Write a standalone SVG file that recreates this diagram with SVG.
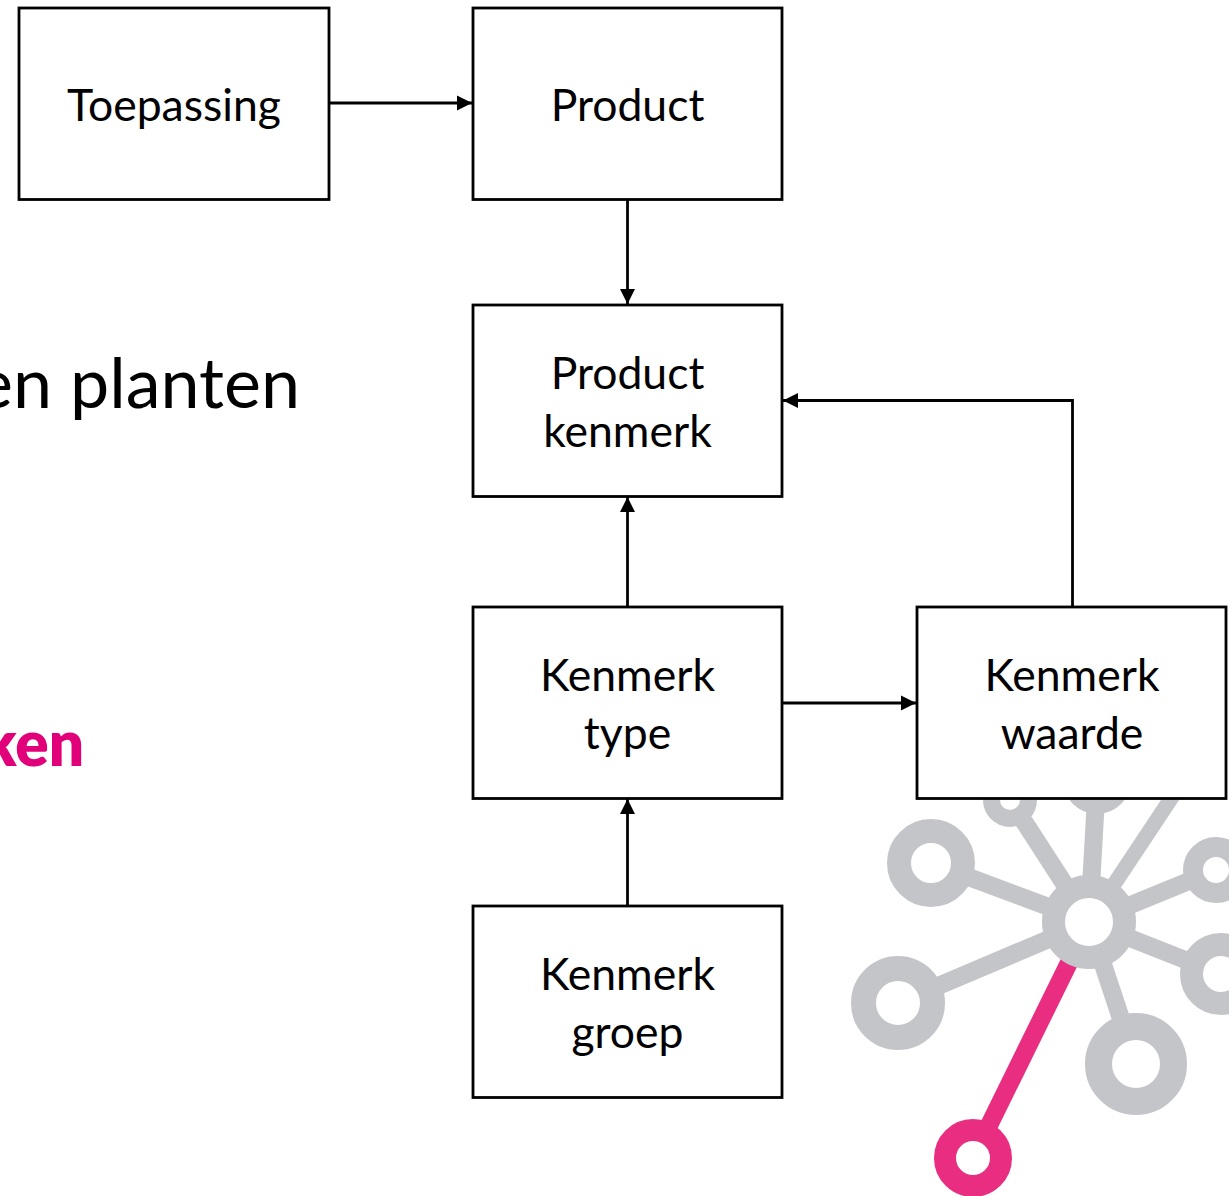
<svg xmlns="http://www.w3.org/2000/svg" width="1229" height="1196" viewBox="0 0 1229 1196">
<style>
.box{fill:#fff;stroke:#000;stroke-width:2.800}
.t{font-family:"Lato","Open Sans",sans-serif;font-size:44.500px;fill:#000;text-anchor:middle}
.c{fill:none;stroke:#000;stroke-width:2.800}
.g{stroke:#c4c5c9;fill:none}
.g circle{fill:#fff}
.p{stroke:#e92d80;fill:none}
</style>
<defs><marker id="a" markerUnits="userSpaceOnUse" markerWidth="16" markerHeight="16" refX="15" refY="8" orient="auto"><path d="M0 0.5L15 8L0 15.500Z" fill="#000"/></marker></defs>
<rect width="1229" height="1196" fill="#fff"/>
<g id="logo">
<g class="g" stroke-width="18">
<line x1="1089" y1="922" x2="931" y2="863"/>
<line x1="1089" y1="922" x2="898" y2="1003"/>
<line x1="1089" y1="922" x2="1136" y2="1064"/>
<line x1="1089" y1="922" x2="1216" y2="870"/>
<line x1="1089" y1="922" x2="1221" y2="974"/>
<line x1="1089" y1="922" x2="1010" y2="800"/>
<line x1="1089" y1="922" x2="1097" y2="780"/>
</g>
<line class="g" stroke-width="15" x1="1089" y1="922" x2="1180" y2="785"/>
<line class="p" stroke-width="18" x1="1089" y1="922" x2="973" y2="1158"/>
<g class="g">
<circle cx="1089" cy="922" r="35.500" stroke-width="23"/>
<circle cx="931" cy="863" r="32" stroke-width="24"/>
<circle cx="898" cy="1003" r="34.500" stroke-width="25"/>
<circle cx="1136" cy="1064" r="37.500" stroke-width="27"/>
<circle cx="1216" cy="870" r="23" stroke-width="20"/>
<circle cx="1221" cy="974" r="29.500" stroke-width="23"/>
<circle cx="1010" cy="800" r="18.500" stroke-width="17"/>
<circle cx="1097" cy="780" r="26" stroke-width="16"/>
</g>
<circle class="p" cx="973" cy="1158" r="28" stroke-width="22" fill="#fff" style="fill:#fff"/>
</g>
<g id="side-text">
<text x="300" y="408" font-family="Lato,'Open Sans',sans-serif" font-size="70" text-anchor="end">en planten</text>
<text x="84" y="766" font-family="Lato,'Open Sans',sans-serif" font-size="62" font-weight="800" fill="#e2007a" text-anchor="end">ken</text>
</g>
<g id="connectors">
<path class="c" d="M330 103H472" marker-end="url(#a)"/>
<path class="c" d="M627.500 200V304" marker-end="url(#a)"/>
<path class="c" d="M627.500 606V497" marker-end="url(#a)"/>
<path class="c" d="M1072.500 606V400.500H783" marker-end="url(#a)"/>
<path class="c" d="M783 703H916" marker-end="url(#a)"/>
<path class="c" d="M627.500 905V799" marker-end="url(#a)"/>
</g>
<g id="node-toepassing"><rect class="box" x="19" y="8" width="310" height="191.500"/><text class="t" x="174" y="120.500">Toepassing</text></g>
<g id="node-product"><rect class="box" x="473" y="8" width="309" height="191.500"/><text class="t" x="627.500" y="120.500">Product</text></g>
<g id="node-product-kenmerk"><rect class="box" x="473" y="305" width="309" height="191.500"/><text class="t" x="627.500" y="388.500">Product</text><text class="t" x="627.500" y="446.500">kenmerk</text></g>
<g id="node-kenmerk-type"><rect class="box" x="473" y="607" width="309" height="191.500"/><text class="t" x="627.500" y="690.500">Kenmerk</text><text class="t" x="627.500" y="748.500">type</text></g>
<g id="node-kenmerk-waarde"><rect class="box" x="917" y="607" width="309" height="191.500"/><text class="t" x="1072" y="690.500">Kenmerk</text><text class="t" x="1072" y="748.500">waarde</text></g>
<g id="node-kenmerk-groep"><rect class="box" x="473" y="906" width="309" height="191.500"/><text class="t" x="627.500" y="989.500">Kenmerk</text><text class="t" x="627.500" y="1047.500">groep</text></g>
</svg>
